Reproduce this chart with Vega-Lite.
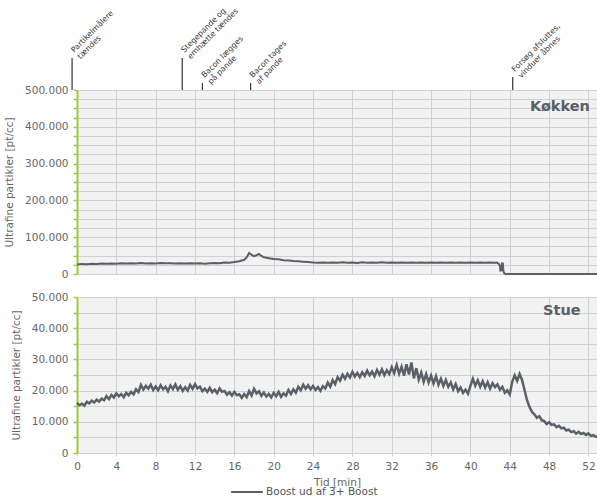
{
  "$schema": "https://vega.github.io/schema/vega-lite/v6.json",
  "padding": {"left": 4, "top": 0, "right": 0, "bottom": 2},
  "config": {
    "locale": {"number": {"decimal": ",", "thousands": ".", "grouping": [3], "currency": ["", " kr."]}},
    "font": "DejaVu Sans",
    "view": {"fill": "#f2f2f2", "stroke": null},
    "axis": {"labelFont": "DejaVu Sans", "labelFontSize": 10.5, "labelColor": "#666666", "titleFont": "DejaVu Sans", "titleFontSize": 10.5, "titleFontWeight": "normal", "titleColor": "#666666", "gridColor": "#d0d0d0", "gridWidth": 1, "labelOverlap": false, "labelFlush": false},
    "legend": {"labelFont": "DejaVu Sans", "labelFontSize": 10.5, "labelColor": "#555555"}
  },
  "datasets": {
    "kokken": [
      {"t": 0, "v": 26000}, {"t": 0.5, "v": 27500}, {"t": 1, "v": 26800}, {"t": 1.5, "v": 27900}, {"t": 2, "v": 27200}, {"t": 2.5, "v": 28300}, {"t": 3, "v": 27600}, {"t": 3.5, "v": 28800}, {"t": 4, "v": 28100}, {"t": 4.5, "v": 29400}, {"t": 5, "v": 28500}, {"t": 5.5, "v": 29000}, {"t": 6, "v": 28300}, {"t": 6.5, "v": 29600}, {"t": 7, "v": 28800}, {"t": 7.5, "v": 29300}, {"t": 8, "v": 28500}, {"t": 8.5, "v": 29700}, {"t": 9, "v": 28900}, {"t": 9.5, "v": 29200}, {"t": 10, "v": 28400}, {"t": 10.5, "v": 29500}, {"t": 11, "v": 28700}, {"t": 11.5, "v": 29100}, {"t": 12, "v": 28200}, {"t": 12.5, "v": 28900}, {"t": 13, "v": 28000}, {"t": 13.5, "v": 29400}, {"t": 14, "v": 30200}, {"t": 14.5, "v": 29500}, {"t": 15, "v": 31300}, {"t": 15.5, "v": 30600}, {"t": 16, "v": 32500}, {"t": 16.5, "v": 34800}, {"t": 17, "v": 38500}, {"t": 17.25, "v": 45000}, {"t": 17.5, "v": 57000}, {"t": 17.75, "v": 52000}, {"t": 18, "v": 48500}, {"t": 18.25, "v": 51000}, {"t": 18.5, "v": 54500}, {"t": 18.75, "v": 49000}, {"t": 19, "v": 45500}, {"t": 19.5, "v": 43000}, {"t": 20, "v": 40500}, {"t": 20.5, "v": 39800}, {"t": 21, "v": 37500}, {"t": 21.5, "v": 36600}, {"t": 22, "v": 35400}, {"t": 22.5, "v": 34800}, {"t": 23, "v": 33600}, {"t": 23.5, "v": 32400}, {"t": 24, "v": 31200}, {"t": 24.5, "v": 30600}, {"t": 25, "v": 31500}, {"t": 25.5, "v": 30300}, {"t": 26, "v": 31200}, {"t": 26.5, "v": 30400}, {"t": 27, "v": 31600}, {"t": 27.5, "v": 30800}, {"t": 28, "v": 31400}, {"t": 28.5, "v": 30200}, {"t": 29, "v": 31700}, {"t": 29.5, "v": 30900}, {"t": 30, "v": 31300}, {"t": 30.5, "v": 30500}, {"t": 31, "v": 31800}, {"t": 31.5, "v": 30600}, {"t": 32, "v": 31200}, {"t": 32.5, "v": 30700}, {"t": 33, "v": 31500}, {"t": 33.5, "v": 30800}, {"t": 34, "v": 31000}, {"t": 34.5, "v": 30400}, {"t": 35, "v": 31200}, {"t": 35.5, "v": 30600}, {"t": 36, "v": 31400}, {"t": 36.5, "v": 30900}, {"t": 37, "v": 31100}, {"t": 37.5, "v": 30500}, {"t": 38, "v": 31300}, {"t": 38.5, "v": 30800}, {"t": 39, "v": 31200}, {"t": 39.5, "v": 30700}, {"t": 40, "v": 31400}, {"t": 40.5, "v": 30900}, {"t": 41, "v": 31100}, {"t": 41.5, "v": 30600}, {"t": 42, "v": 31200}, {"t": 42.5, "v": 30800}, {"t": 42.7, "v": 31000}, {"t": 42.9, "v": 27500}, {"t": 43.0, "v": 22000}, {"t": 43.05, "v": 9000}, {"t": 43.15, "v": 10000}, {"t": 43.2, "v": 28500}, {"t": 43.3, "v": 28000}, {"t": 43.35, "v": 8000}, {"t": 43.45, "v": 1500}, {"t": 43.6, "v": 300}, {"t": 45, "v": 300}, {"t": 48, "v": 300}, {"t": 52.87, "v": 300}
    ],
    "stue": [
      {"t": 0, "v": 16100}, {"t": 0.25, "v": 15300}, {"t": 0.5, "v": 15800}, {"t": 0.75, "v": 15200}, {"t": 1, "v": 16400}, {"t": 1.25, "v": 15900}, {"t": 1.5, "v": 16800}, {"t": 1.75, "v": 16200}, {"t": 2, "v": 17100}, {"t": 2.25, "v": 16500}, {"t": 2.5, "v": 17400}, {"t": 2.75, "v": 16900}, {"t": 3, "v": 18200}, {"t": 3.25, "v": 17300}, {"t": 3.5, "v": 18600}, {"t": 3.75, "v": 17800}, {"t": 4, "v": 19100}, {"t": 4.25, "v": 18200}, {"t": 4.5, "v": 18900}, {"t": 4.75, "v": 17900}, {"t": 5, "v": 19300}, {"t": 5.25, "v": 18500}, {"t": 5.5, "v": 19600}, {"t": 5.75, "v": 18800}, {"t": 6, "v": 20400}, {"t": 6.25, "v": 19500}, {"t": 6.5, "v": 21800}, {"t": 6.75, "v": 20300}, {"t": 7, "v": 21500}, {"t": 7.25, "v": 20600}, {"t": 7.5, "v": 21900}, {"t": 7.75, "v": 20200}, {"t": 8, "v": 21300}, {"t": 8.25, "v": 20100}, {"t": 8.5, "v": 21700}, {"t": 8.75, "v": 20400}, {"t": 9, "v": 21200}, {"t": 9.25, "v": 19800}, {"t": 9.5, "v": 21600}, {"t": 9.75, "v": 20500}, {"t": 10, "v": 22000}, {"t": 10.25, "v": 20300}, {"t": 10.5, "v": 21400}, {"t": 10.75, "v": 19900}, {"t": 11, "v": 21100}, {"t": 11.25, "v": 20000}, {"t": 11.5, "v": 21800}, {"t": 11.75, "v": 20600}, {"t": 12, "v": 22100}, {"t": 12.25, "v": 20700}, {"t": 12.5, "v": 21300}, {"t": 12.75, "v": 19800}, {"t": 13, "v": 20600}, {"t": 13.25, "v": 19600}, {"t": 13.5, "v": 20900}, {"t": 13.75, "v": 19500}, {"t": 14, "v": 20300}, {"t": 14.25, "v": 19200}, {"t": 14.5, "v": 20700}, {"t": 14.75, "v": 19600}, {"t": 15, "v": 19900}, {"t": 15.25, "v": 18700}, {"t": 15.5, "v": 19500}, {"t": 15.75, "v": 18400}, {"t": 16, "v": 19600}, {"t": 16.25, "v": 18500}, {"t": 16.5, "v": 18800}, {"t": 16.75, "v": 17700}, {"t": 17, "v": 18900}, {"t": 17.25, "v": 17900}, {"t": 17.5, "v": 19800}, {"t": 17.75, "v": 18400}, {"t": 18, "v": 20600}, {"t": 18.25, "v": 19100}, {"t": 18.5, "v": 19800}, {"t": 18.75, "v": 18300}, {"t": 19, "v": 19400}, {"t": 19.25, "v": 18100}, {"t": 19.5, "v": 18900}, {"t": 19.75, "v": 17800}, {"t": 20, "v": 19300}, {"t": 20.25, "v": 18200}, {"t": 20.5, "v": 19600}, {"t": 20.75, "v": 18000}, {"t": 21, "v": 19100}, {"t": 21.25, "v": 18400}, {"t": 21.5, "v": 20200}, {"t": 21.75, "v": 18900}, {"t": 22, "v": 20400}, {"t": 22.25, "v": 19300}, {"t": 22.5, "v": 21200}, {"t": 22.75, "v": 20100}, {"t": 23, "v": 21900}, {"t": 23.25, "v": 20600}, {"t": 23.5, "v": 21700}, {"t": 23.75, "v": 20400}, {"t": 24, "v": 21500}, {"t": 24.25, "v": 20200}, {"t": 24.5, "v": 21100}, {"t": 24.75, "v": 19900}, {"t": 25, "v": 21400}, {"t": 25.25, "v": 20700}, {"t": 25.5, "v": 22600}, {"t": 25.75, "v": 21300}, {"t": 26, "v": 23400}, {"t": 26.25, "v": 22100}, {"t": 26.5, "v": 24300}, {"t": 26.75, "v": 23200}, {"t": 27, "v": 25100}, {"t": 27.25, "v": 23800}, {"t": 27.5, "v": 25400}, {"t": 27.75, "v": 24200}, {"t": 28, "v": 26000}, {"t": 28.25, "v": 24500}, {"t": 28.5, "v": 25700}, {"t": 28.75, "v": 24300}, {"t": 29, "v": 25900}, {"t": 29.25, "v": 24700}, {"t": 29.5, "v": 26400}, {"t": 29.75, "v": 24900}, {"t": 30, "v": 26100}, {"t": 30.25, "v": 24600}, {"t": 30.5, "v": 26600}, {"t": 30.75, "v": 25100}, {"t": 31, "v": 26800}, {"t": 31.25, "v": 25000}, {"t": 31.5, "v": 26500}, {"t": 31.75, "v": 25300}, {"t": 32, "v": 27500}, {"t": 32.25, "v": 25600}, {"t": 32.5, "v": 28200}, {"t": 32.75, "v": 25400}, {"t": 33, "v": 27600}, {"t": 33.25, "v": 24800}, {"t": 33.5, "v": 28400}, {"t": 33.75, "v": 25200}, {"t": 34, "v": 29000}, {"t": 34.25, "v": 23900}, {"t": 34.5, "v": 27200}, {"t": 34.75, "v": 23500}, {"t": 35, "v": 25800}, {"t": 35.25, "v": 22800}, {"t": 35.5, "v": 25300}, {"t": 35.75, "v": 22600}, {"t": 36, "v": 24800}, {"t": 36.25, "v": 22300}, {"t": 36.5, "v": 24600}, {"t": 36.75, "v": 21900}, {"t": 37, "v": 23800}, {"t": 37.25, "v": 21500}, {"t": 37.5, "v": 23400}, {"t": 37.75, "v": 21200}, {"t": 38, "v": 22600}, {"t": 38.25, "v": 20400}, {"t": 38.5, "v": 22100}, {"t": 38.75, "v": 19800}, {"t": 39, "v": 21000}, {"t": 39.25, "v": 19300}, {"t": 39.5, "v": 20300}, {"t": 39.75, "v": 19000}, {"t": 40, "v": 21500}, {"t": 40.25, "v": 23800}, {"t": 40.5, "v": 21600}, {"t": 40.75, "v": 23300}, {"t": 41, "v": 21200}, {"t": 41.25, "v": 23000}, {"t": 41.5, "v": 21000}, {"t": 41.75, "v": 22700}, {"t": 42, "v": 20600}, {"t": 42.25, "v": 22400}, {"t": 42.5, "v": 21100}, {"t": 42.75, "v": 22000}, {"t": 43, "v": 20300}, {"t": 43.25, "v": 21200}, {"t": 43.5, "v": 19300}, {"t": 43.75, "v": 20100}, {"t": 44, "v": 18800}, {"t": 44.25, "v": 22800}, {"t": 44.5, "v": 24900}, {"t": 44.75, "v": 23100}, {"t": 45, "v": 25300}, {"t": 45.25, "v": 23400}, {"t": 45.5, "v": 20200}, {"t": 45.75, "v": 17000}, {"t": 46, "v": 14800}, {"t": 46.25, "v": 13200}, {"t": 46.5, "v": 12400}, {"t": 46.75, "v": 11300}, {"t": 47, "v": 11800}, {"t": 47.25, "v": 10500}, {"t": 47.5, "v": 10200}, {"t": 47.75, "v": 9300}, {"t": 48, "v": 9900}, {"t": 48.25, "v": 9000}, {"t": 48.5, "v": 9200}, {"t": 48.75, "v": 8300}, {"t": 49, "v": 8700}, {"t": 49.25, "v": 7900}, {"t": 49.5, "v": 8100}, {"t": 49.75, "v": 7200}, {"t": 50, "v": 7500}, {"t": 50.25, "v": 6700}, {"t": 50.5, "v": 7000}, {"t": 50.75, "v": 6200}, {"t": 51, "v": 6800}, {"t": 51.25, "v": 6100}, {"t": 51.5, "v": 6400}, {"t": 51.75, "v": 5800}, {"t": 52, "v": 6300}, {"t": 52.25, "v": 5500}, {"t": 52.5, "v": 5700}, {"t": 52.75, "v": 5200}, {"t": 52.87, "v": 5400}
    ],
    "events": [
      {"t": -0.5, "top": 587000, "label": "Partikelmålere\ntændes"},
      {"t": 10.7, "top": 587000, "label": "Stegepande og\nemhætte tændes"},
      {"t": 12.75, "top": 519000, "label": "Bacon lægges\npå pande"},
      {"t": 17.65, "top": 519000, "label": "Bacon tages\naf pande"},
      {"t": 44.3, "top": 535000, "label": "Forsøg afsluttes,\nvinduer åbnes"}
    ],
    "panelTop": [{"panel": "Køkken"}],
    "panelBottom": [{"panel": "Stue"}]
  },
  "resolve": {"scale": {"x": "independent", "y": "independent", "color": "shared"}, "legend": {"color": "shared"}},
  "spacing": 12,
  "vconcat": [
    {
      "width": 520,
      "height": 184,
      "layer": [
        {
          "data": {"name": "kokken"},
          "mark": {"type": "line", "strokeWidth": 2},
          "encoding": {
            "x": {"field": "t", "type": "quantitative", "title": null, "scale": {"domain": [0, 52.87], "nice": false, "zero": false}, "axis": {"values": [0, 4, 8, 12, 16, 20, 24, 28, 32, 36, 40, 44, 48, 52], "tickCount": 100, "labels": false, "ticks": false, "domain": false, "grid": true}},
            "y": {"field": "v", "type": "quantitative", "title": "Ultrafine partikler [pt/cc]", "scale": {"domain": [0, 500000], "nice": false}, "axis": {"values": [0, 25000, 50000, 75000, 100000, 125000, 150000, 175000, 200000, 225000, 250000, 275000, 300000, 325000, 350000, 375000, 400000, 425000, 450000, 475000, 500000], "tickCount": 100, "format": ",d", "labelExpr": "datum.value % 100000 === 0 ? datum.label : ''", "labelOverlap": false, "domainColor": "#a3c83c", "domainWidth": 2, "ticks": true, "tickColor": "#a3c83c", "tickSize": 4, "tickWidth": 1.5, "labelPadding": 5, "titlePadding": 10, "grid": true}},
            "color": {"datum": "Boost ud af 3+ Boost", "type": "nominal", "scale": {"range": ["#5b5f67"]}, "legend": {"orient": "none", "legendX": 153, "legendY": 385, "direction": "horizontal", "title": null, "symbolType": "stroke", "symbolSize": 1000, "symbolStrokeWidth": 2, "labelOffset": 2}}
          }
        },
        {
          "data": {"name": "events"},
          "mark": {"type": "rule", "color": "#333333", "strokeWidth": 1.2},
          "encoding": {
            "x": {"field": "t", "type": "quantitative", "title": null},
            "y": {"field": "top", "type": "quantitative", "title": "Ultrafine partikler [pt/cc]"},
            "y2": {"datum": 500000}
          }
        },
        {
          "data": {"name": "events"},
          "mark": {"type": "text", "angle": 315, "align": "left", "baseline": "bottom", "lineBreak": "\n", "lineHeight": 9, "fontSize": 7.8, "color": "#333333", "dx": 5, "dy": 0},
          "encoding": {
            "x": {"field": "t", "type": "quantitative", "title": null},
            "y": {"field": "top", "type": "quantitative", "title": "Ultrafine partikler [pt/cc]"},
            "text": {"field": "label"}
          }
        },
        {
          "data": {"name": "panelTop"},
          "mark": {"type": "text", "align": "right", "baseline": "middle", "fontSize": 14.5, "fontWeight": "bold", "color": "#5b5f69"},
          "encoding": {
            "x": {"datum": 52.15, "type": "quantitative", "title": null},
            "y": {"datum": 454000, "type": "quantitative", "title": "Ultrafine partikler [pt/cc]"},
            "text": {"field": "panel"}
          }
        }
      ]
    },
    {
      "width": 520,
      "height": 156,
      "layer": [
        {
          "data": {"name": "stue"},
          "mark": {"type": "line", "strokeWidth": 2.5},
          "encoding": {
            "x": {"field": "t", "type": "quantitative", "title": "Tid [min]", "scale": {"domain": [0, 52.87], "nice": false, "zero": false}, "axis": {"values": [0, 4, 8, 12, 16, 20, 24, 28, 32, 36, 40, 44, 48, 52], "tickCount": 100, "format": "d", "domain": false, "ticks": true, "tickColor": "#d0d0d0", "tickSize": 3, "labelPadding": 5, "titlePadding": 6, "grid": true}},
            "y": {"field": "v", "type": "quantitative", "title": "Ultrafine partikler [pt/cc]", "scale": {"domain": [0, 50000], "nice": false}, "axis": {"values": [0, 5000, 10000, 15000, 20000, 25000, 30000, 35000, 40000, 45000, 50000], "tickCount": 100, "format": ",d", "labelExpr": "datum.value % 10000 === 0 ? datum.label : ''", "labelOverlap": false, "domainColor": "#a3c83c", "domainWidth": 2, "ticks": true, "tickColor": "#a3c83c", "tickSize": 4, "tickWidth": 1.5, "labelPadding": 5, "titlePadding": 10, "grid": true}},
            "color": {"datum": "Boost ud af 3+ Boost", "type": "nominal", "scale": {"range": ["#5b5f67"]}}
          }
        },
        {
          "data": {"name": "panelBottom"},
          "mark": {"type": "text", "align": "right", "baseline": "middle", "fontSize": 14.5, "fontWeight": "bold", "color": "#5b5f69"},
          "encoding": {
            "x": {"datum": 51.2, "type": "quantitative", "title": "Tid [min]"},
            "y": {"datum": 45500, "type": "quantitative", "title": "Ultrafine partikler [pt/cc]"},
            "text": {"field": "panel"}
          }
        }
      ]
    }
  ]
}
